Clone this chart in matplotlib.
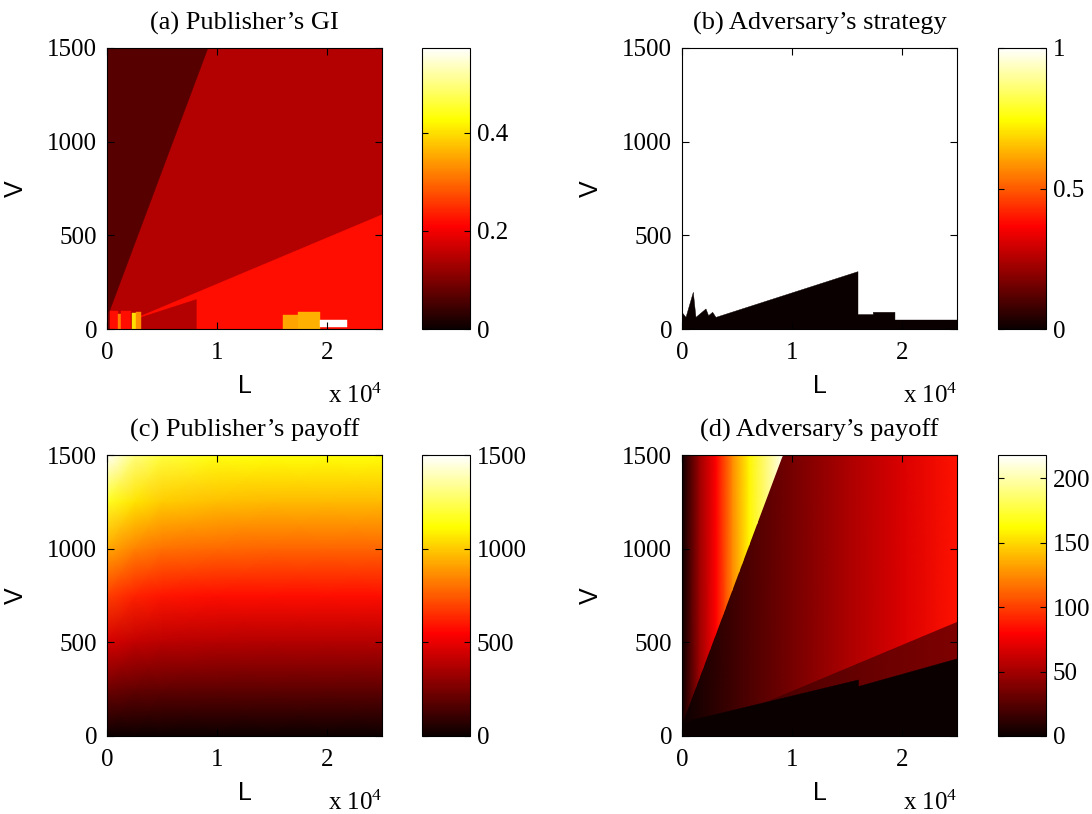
import numpy as np
import matplotlib
matplotlib.use('Agg')
import matplotlib.pyplot as plt
from matplotlib.collections import PolyCollection
from matplotlib.colors import Normalize
from matplotlib.patches import Polygon

plt.rcParams['font.family'] = ['Liberation Serif', 'DejaVu Serif']
plt.rcParams['mathtext.fontset'] = 'custom'
plt.rcParams['mathtext.rm'] = 'Liberation Serif'
plt.rcParams['mathtext.it'] = 'Liberation Serif'

# ---------------- data ----------------
L_MAX = 25000
V_MAX = 1500
titles = ["(a) Publisher\u2019s GI", "(b) Adversary\u2019s strategy",
          "(c) Publisher\u2019s payoff", "(d) Adversary\u2019s payoff"]
x_ticks = [0, 10000, 20000]
x_ticklabels = ['0', '1', '2']
y_ticks = [0, 500, 1000, 1500]

# shared boundaries
lineA_L = [0, 9180]                     # steep boundary (upper-left wedge)
lineA_V = [60, 1500]
lineB_L = [2670, 25000]                 # shallow boundary
lineB_V = [59, 610]

# (b) adversary strategy: boundary of the black (0) region
adv_L = [0, 0, 365, 1030, 1270, 2180, 2420, 2790, 3090, 16000, 16000,
         17390, 17390, 19360, 19360, 25000, 25000]
adv_V = [0, 89, 62, 196, 62, 107, 71, 89, 62, 306, 77,
         77, 89, 89, 48, 48, 0]

# (a) publisher's GI
gi_vmax = 0.573
gi_mid, gi_dark, gi_low = 0.145, 0.065, 0.22
gi_rect_L = [3090, 8120]                # darker block under the adversary boundary
block_L0 = [16030, 17390, 19360]
block_L1 = [17390, 19360, 21790]
block_V0 = [0, 0, 10]
block_V1 = [77, 89, 48]
block_val = [0.35, 0.36, 0.573]
strip_edges = [0, 300, 1000, 1250, 2150, 2300, 2650, 3090]
strip_tops = [85, 95, 80, 95, 90, 85, 90]
strip_vals = [0.10, 0.22, 0.32, 0.22, 0.15, 0.40, 0.33]

# (c) publisher's payoff grid
c_L = [0, 2500, 5000, 10000, 15000, 20000, 25000]
c_V = [0, 250, 500, 750, 1000, 1250, 1500]
c_pay = [
    [0, 0, 0, 0, 0, 0, 0],
    [225, 205, 195, 190, 188, 188, 188],
    [455, 415, 395, 385, 380, 380, 380],
    [690, 625, 595, 580, 575, 575, 575],
    [925, 840, 800, 780, 770, 770, 770],
    [1170, 1060, 1005, 975, 965, 965, 965],
    [1500, 1310, 1210, 1140, 1125, 1125, 1125],
]

# (d) adversary payoff
d_vmax = 218
wedge_L = [0, 1575, 3090, 4600, 6120, 9200]
wedge_val = [0, 47, 80, 125, 160, 215]
mid_L = [0, 5000, 10000, 15000, 20000, 25000]
mid_val = [0, 18, 35, 52, 68, 86]
band_L = [0, 8000, 16000, 25000]
band_val = [5, 20, 30, 38]
black_L = [0, 0, 970, 16000, 16000, 25000, 25000]
black_V = [0, 60, 89, 302, 267, 415, 0]

cbar_ticks = [[0, 0.2, 0.4], [0, 0.5, 1], [0, 500, 1000, 1500], [0, 50, 100, 150, 200]]
cbar_labels = [['0', '0.2', '0.4'], ['0', '0.5', '1'], ['0', '500', '1000', '1500'],
               ['0', '50', '100', '150', '200']]

# ---------------- figure ----------------
W, H = 1092, 814
fig = plt.figure(figsize=(W / 100, H / 100), dpi=100)

def fx(px):
    return px / W

def fy(py_top, py_bottom):
    return (H - py_bottom) / H, (py_bottom - py_top) / H

ax_left = [107, 682]
cb_left = [422, 998]
rows = [(48, 329), (455, 736)]
cmap = plt.get_cmap('hot')

axes = []
caxes = []
for r in range(2):
    for c in range(2):
        b, h = fy(*rows[r])
        ax = fig.add_axes([fx(ax_left[c]), b, fx(275), h])
        cax = fig.add_axes([fx(cb_left[c]), b, fx(48), h])
        axes.append(ax)
        caxes.append(cax)

full = [(0, 0), (L_MAX, 0), (L_MAX, V_MAX), (0, V_MAX)]

def poly_coll(ax, verts, vals, norm):
    pc = PolyCollection(verts, array=np.asarray(vals, float), cmap=cmap, norm=norm,
                        edgecolors='face', linewidths=0.3)
    ax.add_collection(pc)
    return pc

# (a)
ax = axes[0]
norm_a = Normalize(0, gi_vmax)
verts, vals = [], []
verts.append(full); vals.append(gi_mid)
verts.append(list(zip(lineA_L, lineA_V)) + [(0, V_MAX)]); vals.append(gi_dark)
verts.append([(lineB_L[0], lineB_V[0]), (lineB_L[1], lineB_V[1]), (L_MAX, 0), (lineB_L[0], 0)])
vals.append(gi_low)
r_top = np.interp(gi_rect_L, adv_L[8:10], adv_V[8:10])
verts.append([(gi_rect_L[0], 0), (gi_rect_L[0], r_top[0]), (gi_rect_L[1], r_top[1]), (gi_rect_L[1], 0)])
vals.append(gi_mid)
for i in range(len(strip_vals)):
    l0, l1 = strip_edges[i], strip_edges[i + 1]
    verts.append([(l0, 0), (l0, strip_tops[i]), (l1, strip_tops[i]), (l1, 0)])
    vals.append(strip_vals[i])
for l0, l1, v0, v1, val in zip(block_L0, block_L1, block_V0, block_V1, block_val):
    verts.append([(l0, v0), (l0, v1), (l1, v1), (l1, v0)])
    vals.append(val)
m_a = poly_coll(ax, verts, vals, norm_a)

# (b)
ax = axes[1]
norm_b = Normalize(0, 1)
m_b = poly_coll(ax, [full, list(zip(adv_L, adv_V))], [1.0, 0.0], norm_b)

# (c)
ax = axes[2]
norm_c = Normalize(0, 1500)
m_c = ax.pcolormesh(c_L, c_V, np.array(c_pay, float), shading='gouraud', cmap=cmap, norm=norm_c)

# (d)
ax = axes[3]
norm_d = Normalize(0, d_vmax)
m_d = ax.pcolormesh(mid_L, [0, V_MAX], np.vstack([mid_val, mid_val]).astype(float),
                    shading='gouraud', cmap=cmap, norm=norm_d)
band = ax.pcolormesh(band_L, [0, V_MAX], np.vstack([band_val, band_val]).astype(float),
                     shading='gouraud', cmap=cmap, norm=norm_d)
band_poly = Polygon([(lineB_L[0], lineB_V[0]), (lineB_L[1], lineB_V[1]), (L_MAX, 0), (0, 0)],
                    closed=True, transform=ax.transData)
band.set_clip_path(band_poly)
poly_coll(ax, [list(zip(black_L, black_V))], [0.0], norm_d)
wedge = ax.pcolormesh(wedge_L, [0, V_MAX], np.vstack([wedge_val, wedge_val]).astype(float),
                      shading='gouraud', cmap=cmap, norm=norm_d)
wedge_poly = Polygon(list(zip(lineA_L, lineA_V)) + [(0, V_MAX)], closed=True, transform=ax.transData)
wedge.set_clip_path(wedge_poly)

mappables = [m_a, m_b, m_c, m_d]

for i, ax in enumerate(axes):
    ax.set_xlim(0, L_MAX)
    ax.set_ylim(0, V_MAX)
    ax.set_xticks(x_ticks)
    ax.set_xticklabels(x_ticklabels)
    ax.set_yticks(y_ticks)
    ax.tick_params(direction='in', top=True, right=True, length=5, width=0.8,
                   labelsize=18, colors='black')
    ax.tick_params(axis='x', pad=9)
    ax.tick_params(axis='y', pad=7)
    for s in ax.spines.values():
        s.set_linewidth(0.8)
    ax.set_title(titles[i], fontsize=19, pad=13)
    ax.text(0.5, -0.228, 'L', transform=ax.transAxes, ha='center', va='baseline',
            fontsize=18, family=['Liberation Sans', 'DejaVu Sans'])
    ax.text(-0.332, 0.5, 'V', transform=ax.transAxes, ha='center', va='center',
            rotation=90, fontsize=18, family=['Liberation Sans', 'DejaVu Sans'])
    ax.text(1.0, -0.263, r'x 10$^{4}$', transform=ax.transAxes, ha='right',
            va='baseline', fontsize=18)

    cax = caxes[i]
    cb = fig.colorbar(mappables[i], cax=cax)
    cb.set_ticks(cbar_ticks[i])
    cb.set_ticklabels(cbar_labels[i])
    cb.outline.set_linewidth(0.8)
    cax.tick_params(direction='in', left=True, right=True, length=4, width=0.8,
                    labelsize=18, pad=5)

fig.savefig('out.png', dpi=100)
